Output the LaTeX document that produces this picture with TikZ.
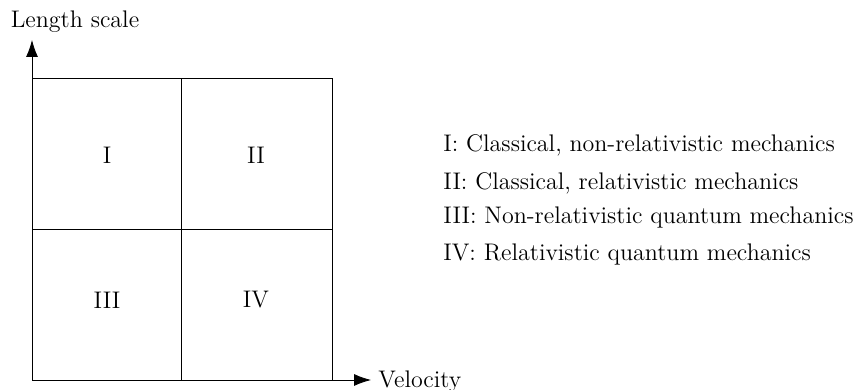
\documentclass[tikz,border=0pt]{standalone}
\usetikzlibrary{arrows.meta}

\begin{document}
\begin{tikzpicture}[x=0.5pt, y=0.5pt, axis/.style={-{Latex[length=8.5pt,width=6pt]}}, every node/.style={inner sep=0pt, font=\fontsize{12pt}{14pt}\selectfont}]
  \useasboundingbox (0,0) rectangle (856,390);
  \coordinate (O) at (32, 10);
  \coordinate (ytip) at (32, 350);
  \coordinate (xtip) at (371, 10);
  \coordinate (TR) at (332, 312);
  \coordinate (midB) at (181, 10);
  \coordinate (midT) at (181, 312);
  \coordinate (midL) at (32, 161);
  \coordinate (midR) at (332, 161);
  \node (1) at (107, 235) {I};
  \node (2) at (256, 235) {II};
  \node (3) at (107, 90) {III};
  \node (4) at (256, 90) {IV};
  \node (ylabel) at (75, 368) {Length scale};
  \node[anchor=west] (xlabel) at (378, 8) {Velocity};
  \node[anchor=west] (l1) at (443, 245) {I: Classical, non-relativistic mechanics};
  \node[anchor=west] (l2) at (443, 207) {II: Classical, relativistic mechanics};
  \node[anchor=west] (l3) at (443, 172) {III: Non-relativistic quantum mechanics};
  \node[anchor=west] (l4) at (443, 135) {IV: Relativistic quantum mechanics};
  \draw[axis] (O) -- (ytip);
  \draw[axis] (O) -- (xtip);
  \draw (O) rectangle (TR);
  \draw (midB) -- (midT);
  \draw (midL) -- (midR);
\end{tikzpicture}
\end{document}
